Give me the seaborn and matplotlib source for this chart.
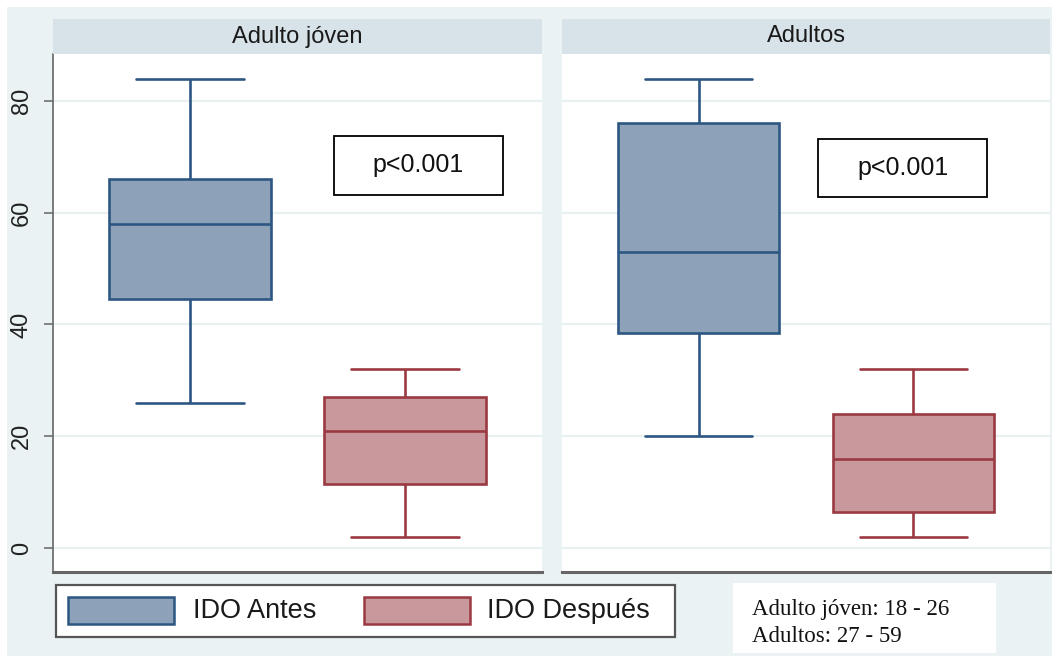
import matplotlib
matplotlib.use("Agg")
import matplotlib.pyplot as plt
from matplotlib.patches import Rectangle
import pandas as pd
import seaborn as sns

# Índice de discapacidad de Oswestry (IDO) antes y después, por grupo de edad
grupos = ["Adulto jóven", "Adultos"]
periodos = ["IDO Antes", "IDO Después"]
# resumen de cinco números: mínimo, Q1, mediana, Q3, máximo
joven_antes = [26, 44.5, 58, 66, 84]
joven_despues = [2, 11.5, 21, 27, 32]
adultos_antes = [20, 38.5, 53, 76, 84]
adultos_despues = [2, 6.5, 16, 24, 32]
p_valores = ["p<0.001", "p<0.001"]
y_ticks = [0, 20, 40, 60, 80]
nota = ["Adulto jóven: 18 - 26", "Adultos: 27 - 59"]

series = {
    ("Adulto jóven", "IDO Antes"): joven_antes,
    ("Adulto jóven", "IDO Después"): joven_despues,
    ("Adultos", "IDO Antes"): adultos_antes,
    ("Adultos", "IDO Después"): adultos_despues,
}
rows = []
for (g, per), vals in series.items():
    for v in vals:
        rows.append({"grupo": g, "periodo": per, "ido": v})
df = pd.DataFrame(rows)

fill = {"IDO Antes": "#8da2b8", "IDO Después": "#c8989c"}
edge = {"IDO Antes": "#2d5783", "IDO Después": "#9a3942"}
BG = "#eaf2f3"
STRIP = "#d8e3e9"
AXIS = "#666666"

sns.set_style("white")
plt.rcParams["font.family"] = ["Liberation Sans", "DejaVu Sans"]

W, H = 1052, 656
fig = plt.figure(figsize=(W / 100, H / 100), dpi=100)
fig.patch.set_facecolor("white")


def fx(x):
    return x / W


def fy(y):
    return 1 - y / H


def frect(x0, y0, x1, y1, **kw):
    r = Rectangle((fx(x0), fy(y1)), fx(x1) - fx(x0), fy(y0) - fy(y1),
                  transform=fig.transFigure, **kw)
    fig.add_artist(r)
    return r


# fondo del gráfico
frect(7, 7, 1052, 656, facecolor=BG, edgecolor="none", zorder=0)

paneles = [(53, 542), (562, 1050)]
top, bottom = 54, 572
cajas_p = [(0.575, 0.728, 0.920, 0.842), (0.525, 0.724, 0.871, 0.836)]

for i, (g, (x0, x1)) in enumerate(zip(grupos, paneles)):
    ax = fig.add_axes([fx(x0), fy(bottom), (x1 - x0) / W, (bottom - top) / H])
    ax.set_facecolor("white")
    ax.set_axisbelow(True)
    for per in periodos:
        sub = df[(df["grupo"] == g) & (df["periodo"] == per)]
        sns.boxplot(data=sub, x="periodo", y="ido", order=periodos,
                    color=fill[per], linecolor=edge[per], linewidth=1.9,
                    width=0.75, whis=(0, 100), saturation=1,
                    showfliers=False, capwidths=0.5, ax=ax)
    ax.set_xlim(-0.637, 1.637)
    ax.set_ylim(-4.3, 88.4)
    ax.set_xlabel("")
    ax.set_ylabel("")
    ax.set_yticks(y_ticks)
    ax.grid(axis="y", color="#e8f0f2", linewidth=1.6)
    ax.grid(axis="x", visible=False)
    ax.set_xticks([])
    for s in ("top", "right"):
        ax.spines[s].set_visible(False)
    ax.spines["bottom"].set_color(AXIS)
    ax.spines["bottom"].set_linewidth(2.2)
    if i == 0:
        ax.spines["left"].set_color(AXIS)
        ax.spines["left"].set_linewidth(1.2)
        ax.tick_params(axis="y", which="both", left=True, length=6.5,
                       width=1.1, color=AXIS, pad=8, labelsize=17,
                       labelcolor="#222222")
        for lab in ax.get_yticklabels():
            lab.set_rotation(90)
            lab.set_va("center")
    else:
        ax.spines["left"].set_visible(False)
        ax.tick_params(axis="y", left=False, labelleft=False)

    # franja del título del panel
    strip = Rectangle((0, 1), 1, (top - 19) / (bottom - top),
                      transform=ax.transAxes, facecolor=STRIP,
                      edgecolor="none", clip_on=False, zorder=3)
    ax.add_patch(strip)
    ax.text(0.5, 1 + (top - 36.5) / (bottom - top), g, transform=ax.transAxes,
            ha="center", va="center", fontsize=17, color="#1a1a1a", zorder=4)

    # recuadro con el valor p
    bx0, by0, bx1, by1 = cajas_p[i]
    ax.add_patch(Rectangle((bx0, by0), bx1 - bx0, by1 - by0,
                           transform=ax.transAxes, facecolor="white",
                           edgecolor="black", linewidth=1.3, zorder=5))
    ax.text((bx0 + bx1) / 2, (by0 + by1) / 2, p_valores[i],
            transform=ax.transAxes, ha="center", va="center",
            fontsize=18, color="#111111", zorder=6)

# leyenda
frect(56, 585, 675, 637, facecolor="white", edgecolor="#555555",
      linewidth=1.6, zorder=2)
leg_x = [(68, 174, 193), (364, 470, 487)]
for per, (a, b, t) in zip(periodos, leg_x):
    frect(a, 597, b, 624, facecolor=fill[per], edgecolor=edge[per],
          linewidth=1.8, zorder=3)
    fig.text(fx(t), fy(611), per, ha="left", va="center", fontsize=19.5,
             color="#1a1a1a", zorder=4)

# nota con los rangos de edad
frect(733, 583, 996, 653, facecolor="white", edgecolor="none", zorder=2)
for k, linea in enumerate(nota):
    fig.text(fx(752), fy(615 + 27 * k), linea, ha="left", va="baseline",
             fontsize=16.5, family=["Liberation Serif", "DejaVu Serif"],
             color="#111111", zorder=4)

fig.savefig("out.png", dpi=100, facecolor=fig.get_facecolor())
